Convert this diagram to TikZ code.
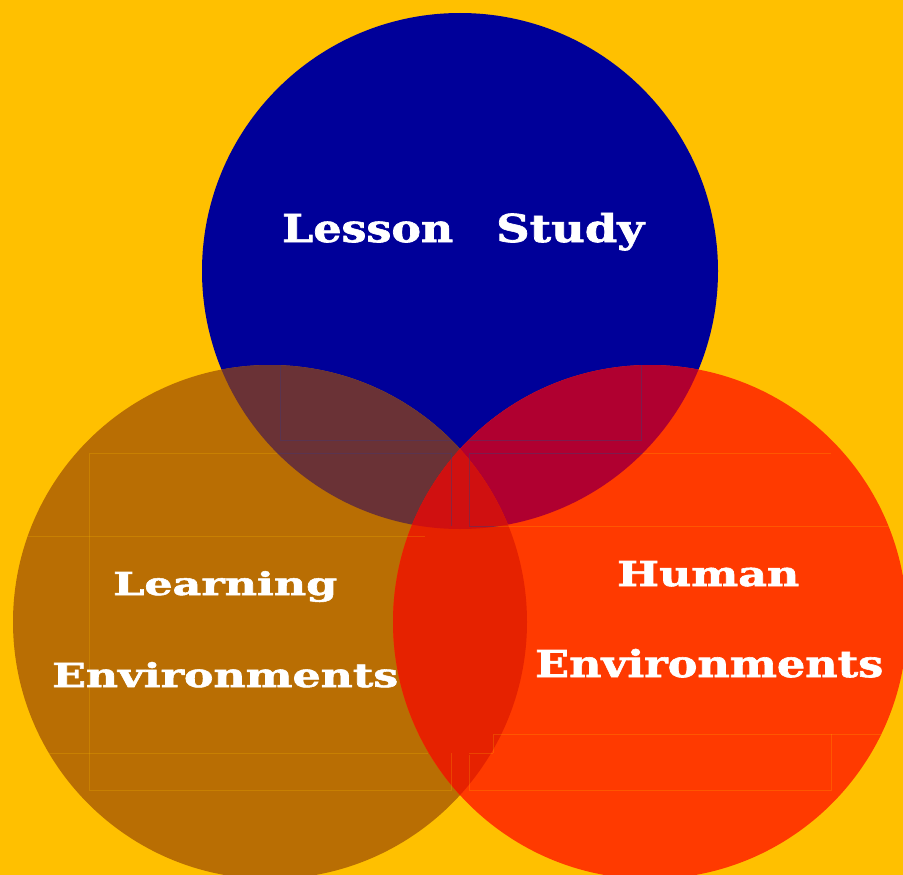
\documentclass[tikz,border=0pt]{standalone}
\usepackage{fontspec}
\usepackage{graphicx}
\newfontfamily\vfont{DejaVu Serif}[BoldFeatures={FakeBold=1.6}]
\definecolor{bgC}{HTML}{FFC000}
\definecolor{blueC}{HTML}{000099}
\definecolor{brownC}{HTML}{B96E03}
\definecolor{redC}{HTML}{FF3A00}
\definecolor{blbrC}{HTML}{6A3236}
\definecolor{blrdC}{HTML}{B00030}
\definecolor{brrdC}{HTML}{E62200}
\definecolor{tripC}{HTML}{D01010}
\newcommand\fitword[3]{\resizebox{#1}{#2}{\raisebox{0pt}[\fontcharht\font`E][0pt]{#3}}}
\newcommand\framelines{%
  \draw[frameline] (280,300)--(280,440)--(641,440)--(641,300);
  \draw[frameline] (451,526)--(451,453)--(89,453)--(89,790)--(451,790)--(451,753);
  \draw[frameline] (0,536)--(425,536);
  \draw[frameline] (0,753)--(428,753);
  \draw[frameline] (469,526)--(469,453)--(831,453);
  \draw[frameline] (469,526)--(903,526);
  \draw[frameline] (493,753)--(493,734)--(903,734);
  \draw[frameline] (469,753)--(493,753);
  \draw[frameline] (469,755)--(469,790)--(831,790)--(831,734);
}
\begin{document}
\begin{tikzpicture}[x=1pt,y=-1pt,
  frameline/.style={line width=0.8pt},
  lbl/.style={font=\vfont\bfseries, text=white, inner sep=0pt, anchor=base west}]
\useasboundingbox (0,0) rectangle (903,875);
\fill[bgC] (0,0) rectangle (903,875);
\coordinate (cB) at (460,271);
\coordinate (cL) at (270,622);
\coordinate (cR) at (650,622);
\def\R{257pt}
\fill[blueC] (cB) circle[radius=258pt];
\fill[brownC] (cL) circle[radius=\R];
\fill[redC] (cR) circle[radius=\R];
\begin{scope}
  \clip (cB) circle[radius=258pt];
  \fill[blbrC] (cL) circle[radius=\R];
  \fill[blrdC] (cR) circle[radius=\R];
\end{scope}
\begin{scope}
  \clip (cL) circle[radius=\R];
  \fill[brrdC] (cR) circle[radius=\R];
  \clip (cB) circle[radius=258pt];
  \fill[tripC] (cR) circle[radius=\R];
\end{scope}
% faint frame lines
\begin{scope}
  \clip (cL) circle[radius=\R] (cR) circle[radius=\R];
  \begin{scope}[draw=bgC, draw opacity=0.22]
    \framelines
  \end{scope}
  \begin{scope}
    \clip (cB) circle[radius=258pt];
    \begin{scope}[draw=blueC, draw opacity=0.35]
      \framelines
    \end{scope}
  \end{scope}
\end{scope}
% labels
\node[lbl] (ls) at (282,242) {\fitword{171pt}{28pt}{Lesson}\hspace{43pt}\fitword{148pt}{28pt}{Study}};
\node[lbl] (l1) at (113,595) {\fitword{224pt}{23pt}{Learning}};
\node[lbl] (l2) at (52,687) {\fitword{346pt}{24pt}{Environments}};
\node[lbl] (h1) at (617,586) {\fitword{182pt}{25pt}{Human}};
\node[lbl] (h2) at (535,677) {\fitword{348pt}{27pt}{Environments}};
\end{tikzpicture}
\end{document}
